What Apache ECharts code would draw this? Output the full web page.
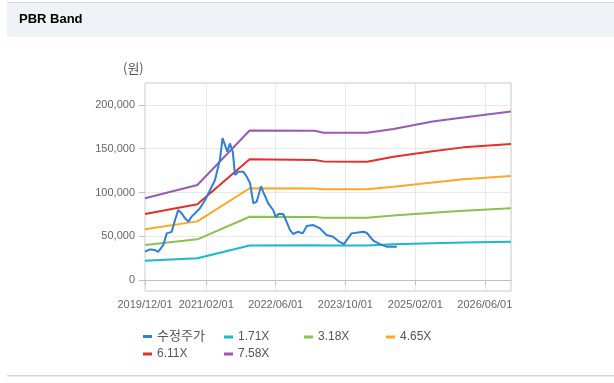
<!DOCTYPE html>
<html>
<head>
<meta charset="utf-8">
<script src="https://cdn.jsdelivr.net/npm/echarts@6/dist/echarts.min.js"></script>
<style>
html,body{margin:0;padding:0;background:#fff;}
#c{width:614px;height:383px;}
</style>
</head>
<body>
<div id="c"></div>
<script>
// ---- data ----
const priceDates = ['2019-12-01','2020-01-05','2020-02-09','2020-03-02','2020-04-07','2020-05-01','2020-06-04','2020-06-28','2020-07-20','2020-08-13','2020-09-06','2020-09-29','2020-10-22','2020-11-15','2020-12-19','2021-01-24','2021-02-28','2021-04-03','2021-05-07','2021-05-26','2021-06-12','2021-06-28','2021-07-16','2021-08-05','2021-08-21','2021-09-13','2021-10-18','2021-11-11','2021-12-04','2021-12-27','2022-01-19','2022-02-19','2022-03-05','2022-04-10','2022-05-14','2022-06-03','2022-06-19','2022-07-23','2022-08-16','2022-09-09','2022-10-01','2022-11-06','2022-12-07','2023-01-04','2023-02-19','2023-04-06','2023-05-22','2023-07-07','2023-08-19','2023-09-20','2023-11-13','2024-02-03','2024-02-27','2024-04-13','2024-05-29','2024-07-15','2024-09-24'];
const priceValues = [32400,35000,34300,32300,40000,53300,55000,68600,80000,76200,70500,66700,72400,76200,82000,91400,102800,114300,137000,162000,154000,146700,156000,146700,120000,123800,123800,118000,110500,87600,89500,107000,101000,87600,80000,71600,75400,75400,66700,57100,52600,55200,53300,61700,62800,59000,51400,49500,43800,41100,53300,55200,54000,45000,41100,38100,38100];

const bandDates = ['2019-12-01','2020-12-01','2021-12-01','2023-03-01','2023-05-01','2024-03-01','2024-09-01','2025-06-01','2026-01-01','2026-12-01'];
const band171 = [22100,24800,39500,39600,39400,39400,40800,42000,43000,43800];
const band318 = [40000,46500,72300,72000,71200,71200,73800,76800,79000,81900];
const band465 = [57900,67000,104800,104600,103600,103600,106600,111500,115000,118900];
const band611 = [75500,86500,137900,137000,135500,135200,140800,147000,151500,155400];
const band758 = [93300,108600,170800,170500,168300,168300,172500,181000,185500,192400];

const seriesNames = ['수정주가','1.71X','3.18X','4.65X','6.11X','7.58X'];
const seriesColors = ['#2f7ed8','#1cb8cc','#8cc152','#ffa629','#e2302a','#9b59b6'];

const xTickDates = ['2019-12-01','2021-02-01','2022-06-01','2023-10-01','2025-02-01','2026-06-01'];
const xMinDate = '2019-12-01';
const xMaxDate = '2026-12-01';
const yTickValues = [0,50000,100000,150000,200000];
const yMin = -12500, yMax = 225000;
const yUnit = '(원)';

// ---- helpers ----
function ts(s){const p=s.split('-').map(Number);return new Date(p[0],p[1]-1,p[2]).getTime();}
function pad(n){return (n<10?'0':'')+n;}
function fmtDate(v){const d=new Date(v);return d.getFullYear()+'/'+pad(d.getMonth()+1)+'/'+pad(d.getDate());}
function pairs(dates, vals){return dates.map((d,i)=>[ts(d),vals[i]]);}

const bandSets = [band171, band318, band465, band611, band758];
const series = [];
series.push({name:seriesNames[0], type:'line', data:pairs(priceDates, priceValues), showSymbol:false, z:5,
  lineStyle:{width:2,color:seriesColors[0]}, itemStyle:{color:seriesColors[0]}});
bandSets.forEach((b,i)=>{
  series.push({name:seriesNames[i+1], type:'line', data:pairs(bandDates,b), showSymbol:false, z:3,
    lineStyle:{width:2,color:seriesColors[i+1]}, itemStyle:{color:seriesColors[i+1]}});
});

const legendPos = [[143,330],[224,331],[304,331],[386,331],[143,348],[224,348]];
const legends = seriesNames.map((n,i)=>({
  data:[n], left:legendPos[i][0], top:legendPos[i][1], icon:'rect', itemWidth:9, itemHeight:3,
  padding:0, textStyle:{fontSize:i===0?13:12, color:'#555', fontFamily:'"Liberation Sans","Noto Sans CJK KR",sans-serif'},
  selectedMode:false
}));

const chart = echarts.init(document.getElementById('c'), null, {renderer:'canvas'});
chart.setOption({
  animation:false,
  backgroundColor:'#fff',
  graphic:[
    {type:'rect', left:7, top:2, shape:{width:607,height:35}, style:{fill:'#eff2f7'}},
    {type:'rect', left:7, top:2, shape:{width:607,height:1}, style:{fill:'#d6d6d6'}},
    {type:'text', left:19, top:13, style:{text:'PBR Band', font:'bold 13px "Liberation Sans","Noto Sans",sans-serif', fill:'#000'}},
    {type:'text', left:123, top:62, style:{text:yUnit, font:'13px "Noto Sans CJK KR",sans-serif', fill:'#555'}},
    {type:'rect', left:7, top:375, shape:{width:607,height:1.5}, style:{fill:'#d6d6d6'}}
  ],
  legend: legends,
  grid:{left:145, right:103, top:83, bottom:92, show:true, borderColor:'#c8c8c8', borderWidth:1, backgroundColor:'#fff'},
  xAxis:{
    type:'value', min:ts(xMinDate), max:ts(xMaxDate),
    axisLine:{show:true, lineStyle:{color:'#c0c0c0'}},
    axisTick:{show:true, length:5, lineStyle:{color:'#c0c0c0'}, customValues:xTickDates.map(ts)},
    axisLabel:{customValues:xTickDates.map(ts), formatter:(v)=>fmtDate(v), fontSize:11, color:'#666', margin:8,
      fontFamily:'"Liberation Sans",sans-serif', hideOverlap:false, showMinLabel:true, showMaxLabel:true},
    splitLine:{show:true, lineStyle:{color:'#e8e8e8'}}
  },
  yAxis:{
    type:'value', min:yMin, max:yMax,
    axisLine:{show:false},
    axisTick:{show:true, length:6, lineStyle:{color:'#c0c0c0'}, customValues:yTickValues},
    axisLabel:{customValues:yTickValues, fontSize:11, color:'#666', margin:10,
      fontFamily:'"Liberation Sans",sans-serif', formatter:(v)=>v.toLocaleString('en-US')},
    splitLine:{show:true, lineStyle:{color:'#e8e8e8'}}
  },
  series: series
});
</script>
</body>
</html>
